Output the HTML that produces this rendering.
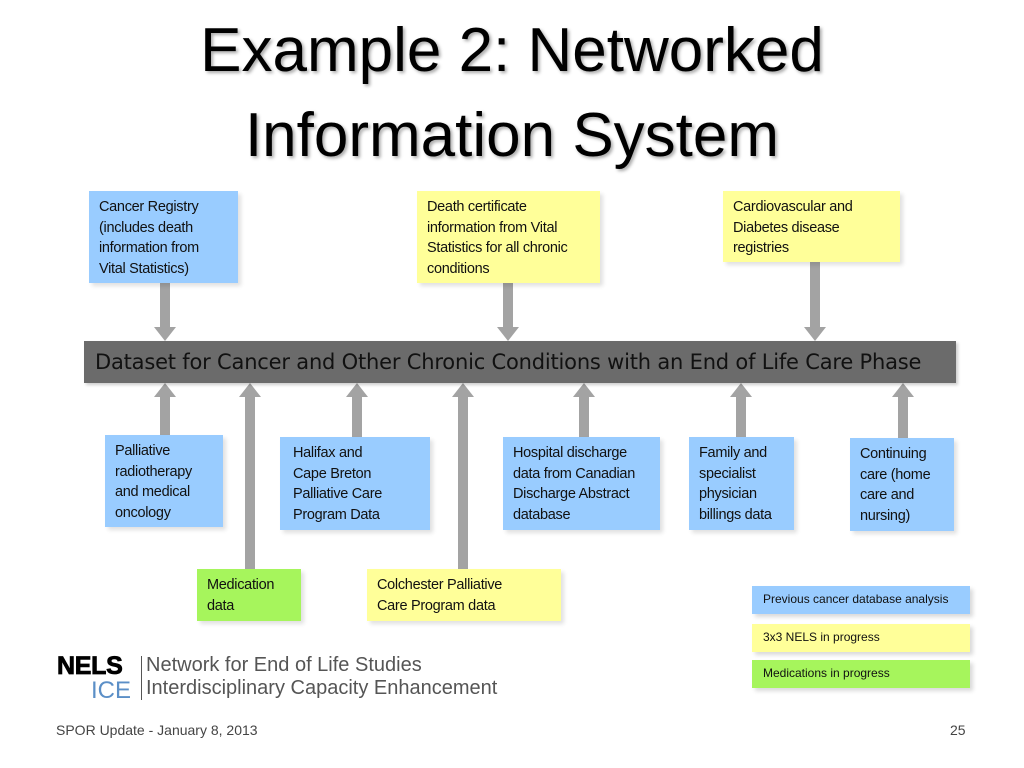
<!DOCTYPE html>
<html><head><meta charset="utf-8"><style>
body{margin:0;width:1024px;height:768px;background:#fff;position:relative;overflow:hidden;font-family:"Liberation Sans",sans-serif}
.t{position:absolute;left:0;width:1024px;text-align:center;font-size:62px;color:#000;text-shadow:2px 2px 3px #aaa;line-height:80px}
.b{position:absolute;box-sizing:border-box;padding:6px 10px;font-size:14.5px;line-height:20.5px;color:#111;box-shadow:3px 3px 4px rgba(0,0,0,0.12);white-space:nowrap;letter-spacing:-0.3px}
.bl{background:#99ccff}.ye{background:#ffff99}.gr{background:#a6f55c}
.lg{position:absolute;left:752px;width:218px;height:28px;box-sizing:border-box;padding:6px 11px;font-size:12px;color:#111;box-shadow:3px 3px 4px rgba(0,0,0,0.15)}
</style></head><body>
<div class="t" style="top:11px">Example 2: Networked</div>
<div class="t" style="top:96px">Information System</div>

<svg width="1024" height="768" style="position:absolute;left:0;top:0">
<g fill="#a3a3a3">
<rect x="160" y="283" width="10" height="45"/><polygon points="154,327 176,327 165,341"/>
<rect x="503" y="283" width="10" height="45"/><polygon points="497,327 519,327 508,341"/>
<rect x="810" y="262" width="10" height="66"/><polygon points="804,327 826,327 815,341"/>
<rect x="160" y="396" width="10" height="40"/><polygon points="154,397 176,397 165,383"/>
<rect x="245" y="396" width="10" height="174"/><polygon points="239,397 261,397 250,383"/>
<rect x="352" y="396" width="10" height="42"/><polygon points="346,397 368,397 357,383"/>
<rect x="458" y="396" width="10" height="174"/><polygon points="452,397 474,397 463,383"/>
<rect x="579" y="396" width="10" height="42"/><polygon points="573,397 595,397 584,383"/>
<rect x="736" y="396" width="10" height="42"/><polygon points="730,397 752,397 741,383"/>
<rect x="898" y="396" width="10" height="43"/><polygon points="892,397 914,397 903,383"/>
</g>
</svg>

<div style="position:absolute;left:84px;top:341px;width:872px;height:42px;background:#6b6b6b;box-shadow:2px 2px 3px rgba(0,0,0,0.2)"></div>
<div style="position:absolute;left:95px;top:350px;font-family:'DejaVu Sans','Liberation Sans',sans-serif;font-size:21px;color:#111;letter-spacing:-0.2px;white-space:nowrap">Dataset for Cancer and Other Chronic Conditions with an End of Life Care Phase</div>

<div class="b bl" style="left:89px;top:191px;width:149px;height:92px">Cancer Registry<br>(includes death<br>information from<br>Vital Statistics)</div>
<div class="b ye" style="left:417px;top:191px;width:183px;height:92px">Death certificate<br>information from Vital<br>Statistics for all chronic<br>conditions</div>
<div class="b ye" style="left:723px;top:191px;width:177px;height:71px">Cardiovascular and<br>Diabetes disease<br>registries</div>

<div class="b bl" style="left:105px;top:435px;width:118px;height:92px">Palliative<br>radiotherapy<br>and medical<br>oncology</div>
<div class="b bl" style="left:280px;top:437px;width:150px;height:93px;padding-left:13px">Halifax and<br>Cape Breton<br>Palliative Care<br>Program Data</div>
<div class="b bl" style="left:503px;top:437px;width:157px;height:93px">Hospital discharge<br>data from Canadian<br>Discharge Abstract<br>database</div>
<div class="b bl" style="left:689px;top:437px;width:105px;height:93px">Family and<br>specialist<br>physician<br>billings data</div>
<div class="b bl" style="left:850px;top:438px;width:104px;height:93px">Continuing<br>care (home<br>care and<br>nursing)</div>

<div class="b gr" style="left:197px;top:569px;width:104px;height:52px">Medication<br>data</div>
<div class="b ye" style="left:367px;top:569px;width:194px;height:52px">Colchester Palliative<br>Care Program data</div>

<div class="lg bl" style="top:586px">Previous cancer database analysis</div>
<div class="lg ye" style="top:624px">3x3 NELS in progress</div>
<div class="lg gr" style="top:660px">Medications in progress</div>

<div style="position:absolute;left:57px;top:652px;font-size:25px;font-weight:900;color:#000;letter-spacing:-0.3px;-webkit-text-stroke:0.8px #000">NELS</div>
<div style="position:absolute;left:91px;top:677px;font-size:24px;color:#5b8fc7">ICE</div>
<div style="position:absolute;left:141px;top:656px;width:1px;height:44px;background:#555"></div>
<div style="position:absolute;left:146px;top:654px;font-size:20px;color:#555;line-height:23px;white-space:nowrap">Network for End of Life Studies<br>Interdisciplinary Capacity Enhancement</div>

<div style="position:absolute;left:56px;top:722px;font-size:14px;color:#444">SPOR Update - January 8, 2013</div>
<div style="position:absolute;left:950px;top:722px;font-size:14px;color:#444">25</div>
</body></html>
